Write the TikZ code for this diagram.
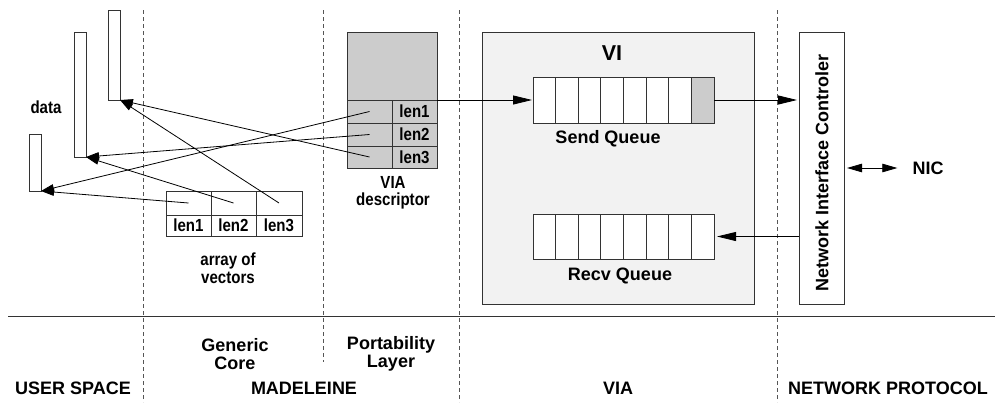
\documentclass[tikz,border=0pt]{standalone}
\usepackage{fontspec}
\setmainfont{Liberation Sans}
\newfontfamily\condfont[FakeStretch=0.86]{Liberation Sans}
\usetikzlibrary{arrows.meta}
\definecolor{ln}{HTML}{333333}
\definecolor{descgray}{HTML}{CCCCCC}
\definecolor{vifill}{HTML}{F2F2F2}
\definecolor{dashc}{HTML}{555555}
\begin{document}
\begin{tikzpicture}[x=1pt,y=-1pt,
  box/.style={draw=ln, line width=0.9pt, inner sep=0pt, outer sep=0pt, anchor=north west},
  small/.style={font=\condfont\fontsize{17.5}{17.5}\selectfont\bfseries, inner sep=0pt, align=center},
  big/.style={font=\fontsize{18}{18}\selectfont\bfseries, inner sep=0pt, align=center},
  conn/.style={draw=black, line width=0.8pt},
  bigtip/.style={-{Triangle[length=19pt,width=9pt]}},
  smalltip/.style={-{Triangle[length=13pt,width=7.5pt]}},
  divider/.style={draw=dashc, line width=0.8pt, dash pattern=on 4pt off 3pt}]
\useasboundingbox (0,0) rectangle (995,402);

% dividers
\draw[divider] (143,10) -- (143,402);
\draw[divider] (323,10) -- (323,362);
\draw[divider] (459,10) -- (459,402);
\draw[divider] (777,10) -- (777,402);
\draw[draw=ln, line width=0.9pt] (8,316) -- (995,316);

% data bars
\node[box, minimum width=12pt, minimum height=90pt] (b1) at (108,10) {};
\node[box, minimum width=12pt, minimum height=125pt] (b2) at (74,32) {};
\node[box, minimum width=12pt, minimum height=57pt] (b3) at (29,134) {};
\node[small] (datal) at (46,107) {data};

% array of vectors
\node[box, minimum width=45pt, minimum height=24pt] (a1) at (166,191) {};
\node[box, minimum width=45pt, minimum height=24pt] (a2) at (211,191) {};
\node[box, minimum width=46pt, minimum height=24pt] (a3) at (256,191) {};
\node[box, minimum width=45pt, minimum height=21pt, small] (l1) at (166,215) {len1};
\node[box, minimum width=45pt, minimum height=21pt, small] (l2) at (211,215) {len2};
\node[box, minimum width=46pt, minimum height=21pt, small] (l3) at (256,215) {len3};
\node[small] (arrl) at (228,268) {array of\\vectors};

% VIA descriptor
\node[box, fill=descgray, minimum width=90pt, minimum height=68pt] (dtop) at (347,32) {};
\node[box, fill=descgray, minimum width=45pt, minimum height=23pt] (d1) at (347,100) {};
\node[box, fill=descgray, minimum width=45pt, minimum height=23pt] (d2) at (347,123) {};
\node[box, fill=descgray, minimum width=45pt, minimum height=22pt] (d3) at (347,146) {};
\node[box, fill=descgray, minimum width=45pt, minimum height=23pt, small] (e1) at (392,100) {len1};
\node[box, fill=descgray, minimum width=45pt, minimum height=23pt, small] (e2) at (392,123) {len2};
\node[box, fill=descgray, minimum width=45pt, minimum height=22pt, small] (e3) at (392,146) {len3};
\node[small] (descl) at (393,193) {VIA\\descriptor};

% VI
\node[box, fill=vifill, minimum width=272pt, minimum height=272pt] (vi) at (482,32) {};
\node[font=\fontsize{21.5}{21}\selectfont\bfseries, inner sep=0pt] (vil) at (612,53) {VI};
\foreach \i in {0,...,7}{
  \node[box, fill=white, minimum width=22.625pt, minimum height=46pt] (s\i) at (533+\i*22.625,77) {};
  \node[box, fill=white, minimum width=22.625pt, minimum height=45pt] (r\i) at (533+\i*22.625,214) {};
}
\node[box, fill=descgray, minimum width=22.625pt, minimum height=46pt] (s7) at (533+7*22.625,77) {};
\node[big] (sql) at (608,139) {Send Queue};
\node[big] (rql) at (620,276) {Recv Queue};

% NIC
\node[box, minimum width=45pt, minimum height=272pt] (nic) at (799,32) {};
\node[big, rotate=90] (nict) at (822,173) {Network Interface Controler};
\node[big] (nicl) at (928,168) {NIC};

% connectors
\draw[conn,smalltip] (a1.center) -- (b3.south east);
\draw[conn,smalltip] (a2.center) -- (b2.south east);
\draw[conn,smalltip] (a3.center) -- (b1.south east);
\draw[conn,smalltip] (d1.center) -- (b3.south east);
\draw[conn,smalltip] (d2.center) -- (b2.south east);
\draw[conn,smalltip] (d3.center) -- (b1.south east);
\draw[conn,bigtip,shorten >=1pt] (dtop.south east) -- (s0.west);
\draw[conn,bigtip,shorten >=2pt] (s7.east) -- (s7.east -| nic.west);
\draw[conn,bigtip,shorten >=3pt] (nic.west |- r7.east) -- (r7.east);
\draw[conn,{Triangle[length=15pt,width=8.5pt]}-{Triangle[length=15pt,width=8.5pt]},shorten <=3pt,shorten >=15pt] (nic.east) -- (nicl.west);

% bottom labels
\node[big] (gc) at (235,354) {Generic\\Core};
\node[big] (pl) at (391,354) {Portability\\Layer};
\node[big] (us) at (73,388) {USER SPACE};
\node[big] (ma) at (304,388) {MADELEINE};
\node[big] (via) at (618,388) {VIA};
\node[big] (np) at (888,388) {NETWORK PROTOCOL};
\end{tikzpicture}
\end{document}
